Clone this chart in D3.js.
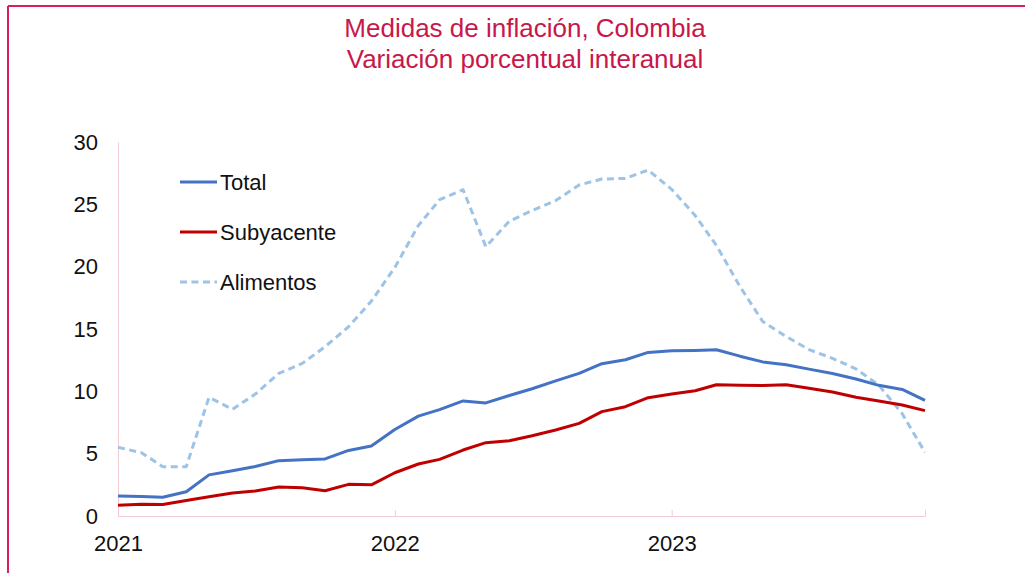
<!DOCTYPE html>
<html>
<head>
<meta charset="utf-8">
<script src="https://cdn.jsdelivr.net/npm/d3@7"></script>
<style>
  body{ margin:0; background:#fff; }
  svg{ display:block; font-family:"Liberation Sans", Arial, sans-serif; }
</style>
</head>
<body>
<div id="chart"></div>
<script>
// monthly data, Jan 2021 .. Dec 2023
const months = d3.range(36).map(i => new Date(2021, i, 1));
const total = [1.60,1.56,1.51,1.95,3.30,3.63,3.97,4.44,4.51,4.58,5.26,5.62,
  6.94,8.01,8.53,9.23,9.07,9.67,10.21,10.84,11.44,12.22,12.53,13.12,
  13.25,13.28,13.34,12.82,12.36,12.13,11.78,11.43,10.99,10.48,10.15,9.28];
const subyacente = [0.86,0.94,0.93,1.25,1.55,1.85,2.0,2.33,2.27,2.03,2.54,2.5,
  3.47,4.17,4.54,5.29,5.88,6.04,6.44,6.9,7.43,8.37,8.77,9.49,
  9.78,10.05,10.53,10.48,10.46,10.53,10.24,9.94,9.52,9.22,8.9,8.45];
const alimentos = [5.51,5.08,3.96,3.96,9.52,8.56,9.78,11.44,12.24,13.58,15.18,17.23,
  19.94,23.3,25.37,26.17,21.6,23.65,24.5,25.3,26.55,27.03,27.08,27.75,
  26.2,24.1,21.7,18.4,15.6,14.4,13.35,12.65,11.8,10.5,8.2,5.1];
const series = [
  {name:"Total", values: total, color:"#4472C4", dash:null},
  {name:"Subyacente", values: subyacente, color:"#C00000", dash:null},
  {name:"Alimentos", values: alimentos, color:"#9DC3E6", dash:"7,4.5"}
];
const yTicks = [0,5,10,15,20,25,30];
const xTicks = [new Date(2021,0,1), new Date(2022,0,1), new Date(2023,0,1)];
const titleLines = ["Medidas de inflación, Colombia", "Variación porcentual interanual"];

const W = 1025, H = 573;
const svg = d3.select("#chart").append("svg").attr("width", W).attr("height", H);

// frame
const frameColor = "#DC1F5A";
svg.append("line").attr("x1", 8).attr("x2", W).attr("y1", 6).attr("y2", 6)
  .attr("stroke", frameColor).attr("stroke-width", 2);
svg.append("line").attr("x1", 8).attr("x2", 8).attr("y1", 6).attr("y2", H)
  .attr("stroke", frameColor).attr("stroke-width", 2);

// title
svg.append("g").selectAll("text").data(titleLines).enter().append("text")
  .attr("x", 525).attr("y", (d, i) => 37 + i * 31)
  .attr("text-anchor", "middle")
  .attr("font-size", 26)
  .attr("fill", "#C8174A")
  .text(d => d);

const x = d3.scaleTime().domain([months[0], months[35]]).range([118, 925]);
const y = d3.scaleLinear().domain([0, 30]).range([516, 142]);

const axisColor = "#F4CCD4";

// y axis
const yAxis = svg.append("g").attr("transform", "translate(118,0)")
  .call(d3.axisLeft(y).tickValues(yTicks).tickSize(0).tickPadding(20));
yAxis.select(".domain").attr("stroke", axisColor).attr("stroke-width", 1);
yAxis.selectAll("text").attr("font-size", 22).attr("fill", "#111")
  .attr("font-family", "Liberation Sans, Arial, sans-serif");

// x axis
const xAxis = svg.append("g").attr("transform", "translate(0,516)")
  .call(d3.axisBottom(x).tickValues(xTicks).tickSize(-6).tickPadding(19)
    .tickFormat(d3.timeFormat("%Y")));
xAxis.select(".domain").attr("stroke", axisColor).attr("stroke-width", 1);
xAxis.selectAll(".tick line").attr("stroke", axisColor);
xAxis.selectAll("text").attr("font-size", 22).attr("fill", "#111")
  .attr("font-family", "Liberation Sans, Arial, sans-serif");

// lines
const line = d3.line().x((d, i) => x(months[i])).y(d => y(d));
svg.append("g").selectAll("path").data(series.slice().reverse()).enter().append("path")
  .attr("d", d => line(d.values))
  .attr("fill", "none")
  .attr("stroke", d => d.color)
  .attr("stroke-width", 3)
  .attr("stroke-dasharray", d => d.dash)
  .attr("stroke-linejoin", "round");

// legend
const legend = svg.append("g").selectAll("g").data(series).enter().append("g")
  .attr("transform", (d, i) => "translate(180," + (182 + i * 50) + ")");
legend.append("line").attr("x1", 0).attr("x2", 37)
  .attr("stroke", d => d.color).attr("stroke-width", 3)
  .attr("stroke-dasharray", d => d.dash);
legend.append("text").attr("x", 40).attr("dy", "0.35em")
  .attr("font-size", 22).attr("fill", "#111")
  .text(d => d.name);
</script>
</body>
</html>
